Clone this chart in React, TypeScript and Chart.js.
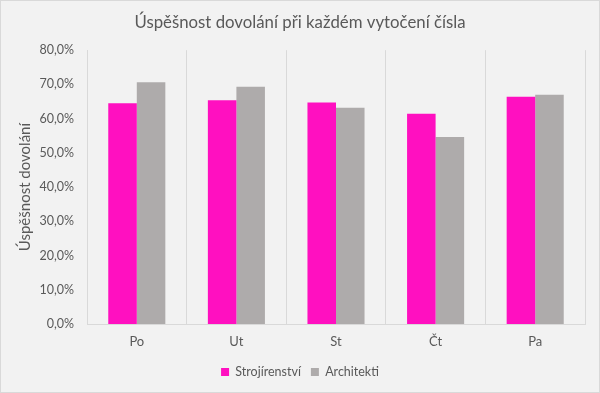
import React, { useEffect, useRef } from "react";
import { Chart, registerables } from "chart.js";

Chart.register(...registerables);

const categories = ["Po", "Ut", "St", "Čt", "Pa"];
const strojirenstvi = [64.5, 65.4, 64.7, 61.4, 66.4];
const architekti = [70.6, 69.3, 63.2, 54.6, 67.0];
const seriesNames = ["Strojírenství", "Architekti"];
const titleText = "Úspěšnost dovolání při každém vytočení čísla";
const yTitle = "Úspěšnost dovolání";

const FONT = "Lato, 'Open Sans', sans-serif";
const TEXT = "#595959";
const GRID = "#D9D9D9";

const bgPlugin = {
  id: "bg",
  beforeDraw(chart: any) {
    const { ctx, width, height } = chart;
    ctx.save();
    ctx.fillStyle = "#F2F2F2";
    ctx.fillRect(0, 0, width, height);
    ctx.strokeStyle = GRID;
    ctx.lineWidth = 1;
    ctx.strokeRect(0.5, 0.5, width - 1, height - 1);
    ctx.restore();
  },
};

export default function App() {
  const ref = useRef<HTMLCanvasElement>(null);
  useEffect(() => {
    document.body.style.margin = "0";
    const chart = new Chart(ref.current!, {
      type: "bar",
      data: {
        labels: categories,
        datasets: [
          { label: seriesNames[0], data: strojirenstvi, backgroundColor: "#FF10C0" },
          { label: seriesNames[1], data: architekti, backgroundColor: "#AEABAB" },
        ],
      },
      plugins: [bgPlugin],
      options: {
        responsive: false,
        animation: false,
        layout: { padding: { left: 0, right: 0, top: 0, bottom: 4.75 } },
        datasets: { bar: { categoryPercentage: 0.573, barPercentage: 1 } },
        plugins: {
          title: {
            display: true,
            text: titleText,
            color: TEXT,
            font: { family: FONT, size: 16.8, weight: "normal" },
            padding: { top: 13, bottom: 17 },
          },
          legend: {
            position: "bottom",
            labels: {
              color: TEXT,
              font: { family: FONT, size: 12.5 },
              boxWidth: 8,
              boxHeight: 8,
              padding: 10,
            },
          },
          tooltip: { enabled: false },
        },
        scales: {
          x: {
            grid: { display: true, color: GRID, drawTicks: false, offset: true },
            border: { display: true, color: GRID },
            ticks: { color: TEXT, font: { family: FONT, size: 13 }, padding: 10 },
            afterFit(scale: any) {
              scale.height = 31.75;
            },
          },
          y: {
            min: 0,
            max: 80,
            grid: { display: false, drawTicks: false },
            border: { display: true, color: GRID },
            ticks: {
              stepSize: 10,
              color: TEXT,
              font: { family: FONT, size: 12.5 },
              padding: 13,
              callback: (v: any) => Number(v).toFixed(1).replace(".", ",") + "%",
            },
            title: {
              display: true,
              text: yTitle,
              color: TEXT,
              font: { family: FONT, size: 15, weight: "normal" },
              padding: { top: 16, bottom: 0 },
            },
            afterFit(scale: any) {
              scale.width = 87;
            },
          },
          yRight: {
            position: "right",
            display: true,
            grid: { display: false, drawTicks: false },
            border: { display: false },
            ticks: { display: false },
            afterFit(scale: any) {
              scale.width = 15;
            },
          },
        },
      },
    });
    return () => chart.destroy();
  }, []);
  return (
    <div style={{ width: 600, height: 393 }}>
      <canvas ref={ref} width={600} height={393} style={{ display: "block" }} />
    </div>
  );
}
